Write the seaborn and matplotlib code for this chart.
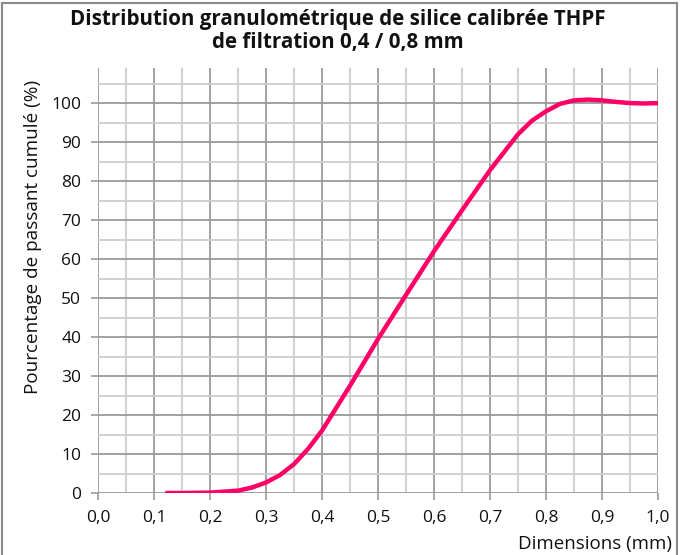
import matplotlib
matplotlib.use("Agg")
import matplotlib.pyplot as plt
import seaborn as sns
import pandas as pd
from matplotlib.patches import Rectangle
from matplotlib.ticker import MultipleLocator, FuncFormatter

# Data
dimensions_mm = [0.12, 0.15, 0.20, 0.25, 0.275, 0.30, 0.325, 0.35, 0.375, 0.40, 0.45,
                 0.50, 0.55, 0.60, 0.65, 0.70, 0.75, 0.775, 0.80, 0.825, 0.85,
                 0.875, 0.90, 0.925, 0.95, 0.975, 1.00]
passant_cumule = [0.0, 0.0, 0.1, 0.6, 1.4, 2.7, 4.6, 7.4, 11.3, 16.0, 27.5,
                  39.5, 50.8, 62.0, 72.5, 82.8, 92.0, 95.5, 97.9, 99.8, 100.7,
                  100.9, 100.7, 100.3, 100.0, 99.9, 100.0]

title = "Distribution granulométrique de silice calibrée THPF\nde filtration 0,4 / 0,8 mm"
ylabel = "Pourcentage de passant cumulé (%)"
xlabel = "Dimensions (mm)"

df = pd.DataFrame({"x": dimensions_mm, "y": passant_cumule})

sns.set_style("white")
plt.rcParams["font.family"] = ["Open Sans", "DejaVu Sans"]

W, H = 687, 555
fig = plt.figure(figsize=(W / 100, H / 100), dpi=100)
ax = fig.add_axes([98 / W, 1 - 493 / H, (658 - 98) / W, (493 - 68) / H])

sns.lineplot(data=df, x="x", y="y", ax=ax, color="#FF0066", linewidth=3.2,
             solid_capstyle="butt", zorder=5)

ax.set_xlim(0, 1.0)
ax.set_ylim(0, 109)
ax.xaxis.set_major_locator(MultipleLocator(0.1))
ax.xaxis.set_minor_locator(MultipleLocator(0.05))
ax.yaxis.set_major_locator(MultipleLocator(10))
ax.yaxis.set_minor_locator(MultipleLocator(5))
ax.set_yticks(range(0, 101, 10))
ax.xaxis.set_major_formatter(FuncFormatter(lambda v, p: f"{v:.1f}".replace(".", ",")))

ax.grid(True, which="major", color="#9a9a9a", linewidth=1.3)
ax.grid(True, which="minor", color="#cdcdcd", linewidth=1.3)
ax.set_axisbelow(True)
for s in ax.spines.values():
    s.set_visible(False)

ax.tick_params(axis="both", which="major", length=5, width=1.2, color="#9a9a9a",
               labelsize=12.5, labelcolor="#111111", pad=7, bottom=True, left=True)
ax.tick_params(axis="both", which="minor", length=0)
ax.set_xlabel("")
ax.set_ylabel("")

fig.text(338 / W, 1 - 31 / H, title, ha="center", va="center", fontsize=14.8,
         fontweight="bold", color="#111111", linespacing=1.08)
fig.text(33 / W, 1 - 237 / H, ylabel, rotation=90, ha="center", va="center",
         fontsize=13.6, color="#111111")
fig.text(672 / W, 1 - 544 / H, xlabel, ha="right", va="center", fontsize=13.5,
         color="#111111")

fig.patches.append(Rectangle((2 / W, -0.05), 675 / W, 1.05 - 3 / H,
                             transform=fig.transFigure, fill=False,
                             edgecolor="#8a8a8a", linewidth=1.5))

fig.savefig("out.png", dpi=100)
